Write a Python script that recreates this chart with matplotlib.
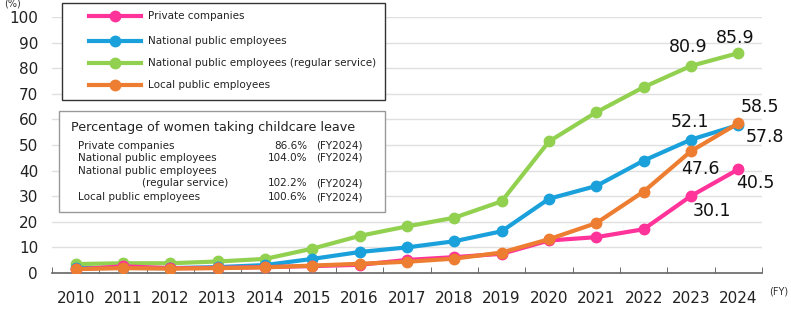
import matplotlib
matplotlib.use("Agg")
import matplotlib.pyplot as plt
from matplotlib.patches import Rectangle
from matplotlib.lines import Line2D

years = [str(y) for y in range(2010, 2025)]
private = [1.4, 2.6, 1.9, 2.0, 2.3, 2.7, 3.2, 5.1, 6.2, 7.5, 12.7, 14.0, 17.1, 30.1, 40.5]
national = [1.9, 2.0, 1.9, 2.3, 3.1, 5.5, 8.2, 10.0, 12.4, 16.3, 29.0, 34.0, 43.9, 52.1, 57.8]
national_regular = [3.5, 3.8, 3.8, 4.5, 5.5, 9.5, 14.5, 18.2, 21.6, 28.0, 51.4, 62.8, 72.6, 80.9, 85.9]
local = [1.5, 1.9, 1.7, 1.9, 2.2, 2.9, 3.6, 4.4, 5.6, 8.0, 13.2, 19.5, 31.8, 47.6, 58.5]

series_names = ["Private companies", "National public employees",
                "National public employees (regular service)", "Local public employees"]
colors = ["#FF3399", "#1AA1DB", "#92D050", "#ED7D31"]

women_rows = [("Private companies", "86.6%", "(FY2024)"),
              ("National public employees", "104.0%", "(FY2024)"),
              ("National public employees", "", ""),
              ("(regular service)", "102.2%", "(FY2024)"),
              ("Local public employees", "100.6%", "(FY2024)")]
row_indent = [78, 78, 78, 142, 78]

W, H = 791, 311
fig = plt.figure(figsize=(W / 100, H / 100), dpi=100)
ax = fig.add_axes([52 / W, 1 - 273 / H, (762 - 52) / W, (273 - 17) / H])

x = list(range(len(years)))
data = [private, national, national_regular, local]
order = [2, 1, 0, 3]  # draw order: green, blue, pink, orange on top
for i in order:
    ax.plot(x, data[i], color=colors[i], lw=3.0, marker="o", ms=7.5,
            solid_capstyle="round", zorder=3 + order.index(i))

ax.set_xlim(-0.5, len(years) - 0.5)
ax.set_ylim(0, 100)
ax.set_yticks(range(0, 101, 10))
ax.set_xticks(x)
ax.set_xticklabels(years)
ax.set_xticks([i + 0.5 for i in range(-1, len(years))], minor=True)
ax.tick_params(axis="x", which="major", length=0, pad=13, labelsize=11, colors="#222222")
ax.tick_params(axis="x", which="minor", direction="in", length=4, color="#555555")
ax.tick_params(axis="y", length=0, pad=10, labelsize=11, colors="#222222")
ax.grid(axis="y", color="#E0E0E0", lw=1)
ax.set_axisbelow(True)
for s in ["left", "right", "top"]:
    ax.spines[s].set_visible(False)
ax.spines["bottom"].set_color("#666666")
ax.spines["bottom"].set_linewidth(1.2)

# data labels
labels = [
    (2, 13, "80.9", (-3, 19)),
    (2, 14, "85.9", (-3, 15)),
    (3, 14, "58.5", (22, 16)),
    (1, 13, "52.1", (-1, 18)),
    (1, 14, "57.8", (27, -12)),
    (3, 13, "47.6", (9, -18)),
    (0, 14, "40.5", (17, -14)),
    (0, 13, "30.1", (21, -15)),
]
for si, xi, txt, off in labels:
    ax.annotate(txt, (xi, data[si][xi]), xytext=off, textcoords="offset pixels",
                ha="center", va="center", fontsize=12.5, color="#111111", zorder=10)

fig.text(13 / W, 1 - 4 / H, "(%)", fontsize=7, ha="center", va="center", color="#333333")
fig.text(779 / W, 1 - 292 / H, "(FY)", fontsize=7, ha="center", va="center", color="#333333")

# legend box
fig.patches.append(Rectangle((62 / W, 1 - 100 / H), (385 - 62) / W, 97 / H,
                             transform=fig.transFigure, fill=True, facecolor="white",
                             edgecolor="#333333", lw=1.0, zorder=20))
rows_y = [16, 41, 63, 85]
for i, yy in enumerate(rows_y):
    yf = 1 - yy / H
    fig.lines.append(Line2D([89 / W, 141 / W], [yf, yf], transform=fig.transFigure,
                            color=colors[i], lw=3.0, marker="", zorder=21))
    fig.lines.append(Line2D([115 / W], [yf], transform=fig.transFigure,
                            color=colors[i], marker="o", ms=7.5, zorder=22))
    fig.text(148 / W, yf, series_names[i], fontsize=7.5, ha="left", va="center",
             color="#222222", zorder=23)

# women box
fig.patches.append(Rectangle((59 / W, 1 - 212 / H), (385 - 59) / W, 101 / H,
                             transform=fig.transFigure, fill=True, facecolor="white",
                             edgecolor="#999999", lw=1.0, zorder=20))
fig.text(71 / W, 1 - 127 / H, "Percentage of women taking childcare leave",
         fontsize=9.2, ha="left", va="center", color="#222222", zorder=23)
ry = [146, 158, 171, 183, 197]
for (name, val, fy), xx, yy in zip(women_rows, row_indent, ry):
    yf = 1 - yy / H
    fig.text(xx / W, yf, name, fontsize=7.5, ha="left", va="center", color="#222222", zorder=23)
    if val:
        fig.text(307 / W, yf, val, fontsize=7.5, ha="right", va="center", color="#222222", zorder=23)
        fig.text(316 / W, yf, fy, fontsize=7.5, ha="left", va="center", color="#222222", zorder=23)

fig.savefig("out.png", dpi=100)
